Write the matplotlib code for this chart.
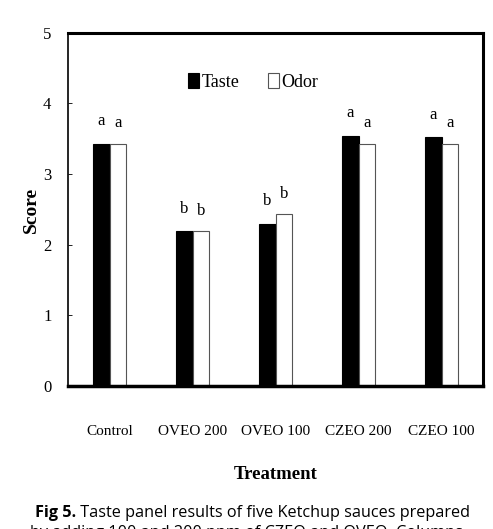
import numpy as np
import matplotlib.pyplot as plt

# data
treatments = ["Control", "OVEO 200", "OVEO 100", "CZEO 200", "CZEO 100"]
taste = [3.43, 2.19, 2.30, 3.54, 3.52]
odor = [3.43, 2.19, 2.43, 3.43, 3.43]
taste_letters = ["a", "b", "b", "a", "a"]
odor_letters = ["a", "b", "b", "a", "a"]

plt.rcParams['font.family'] = ['Liberation Serif', 'DejaVu Serif']

fig = plt.figure(figsize=(4.93, 5.29), dpi=100)
ax = fig.add_axes([0.138, 0.270, 0.842, 0.668])

x = np.arange(len(treatments))
w = 0.2
ax.bar(x - w / 2, taste, w, color='black', edgecolor='black', linewidth=0.8, label='Taste')
ax.bar(x + w / 2, odor, w, color='white', edgecolor='#555555', linewidth=0.8, label='Odor')

for i in range(len(treatments)):
    ax.text(x[i] - w / 2, taste[i] + 0.32, taste_letters[i], ha='center', va='center', fontsize=12)
    ax.text(x[i] + w / 2, odor[i] + 0.29, odor_letters[i], ha='center', va='center', fontsize=12)

ax.set_xlim(-0.5, 4.5)
ax.set_ylim(0, 5)
ax.set_yticks([0, 1, 2, 3, 4, 5])
ax.set_xticks(x)
ax.set_xticklabels(treatments, fontsize=11)
ax.tick_params(axis='y', labelsize=12, direction='in', length=3, width=0.6, pad=12)
ax.tick_params(axis='x', length=0, pad=28)

ax.spines['left'].set_linewidth(1.2)
ax.spines['top'].set_linewidth(2.2)
ax.spines['right'].set_linewidth(2.2)
ax.spines['bottom'].set_linewidth(2.5)

ax.set_ylabel("Score", fontsize=14, fontweight='bold', labelpad=2)
ax.set_xlabel("Treatment", fontsize=13.5, fontweight='bold', labelpad=20)

ax.legend(loc='center', bbox_to_anchor=(0.446, 0.86), ncol=2, frameon=False,
          handlelength=0.6, handleheight=0.9, handletextpad=0.15, columnspacing=1.6,
          fontsize=13, borderaxespad=0)

# caption under the chart, second line runs off the bottom edge as in the source
t1 = fig.text(0.071, 0.030, "Fig 5.", fontsize=11.7, family='Open Sans',
              fontweight='bold', va='center')
ax.annotate(" Taste panel results of five Ketchup sauces prepared", xy=(1, 0.5),
            xycoords=t1, va='center', fontsize=11.7, family='Open Sans')
fig.text(0.50, -0.008, "by adding 100 and 200 ppm of CZEO and OVEO. Columns",
         fontsize=11.7, family='Open Sans', ha='center', va='center')

plt.savefig("out.png")
plt.close()
